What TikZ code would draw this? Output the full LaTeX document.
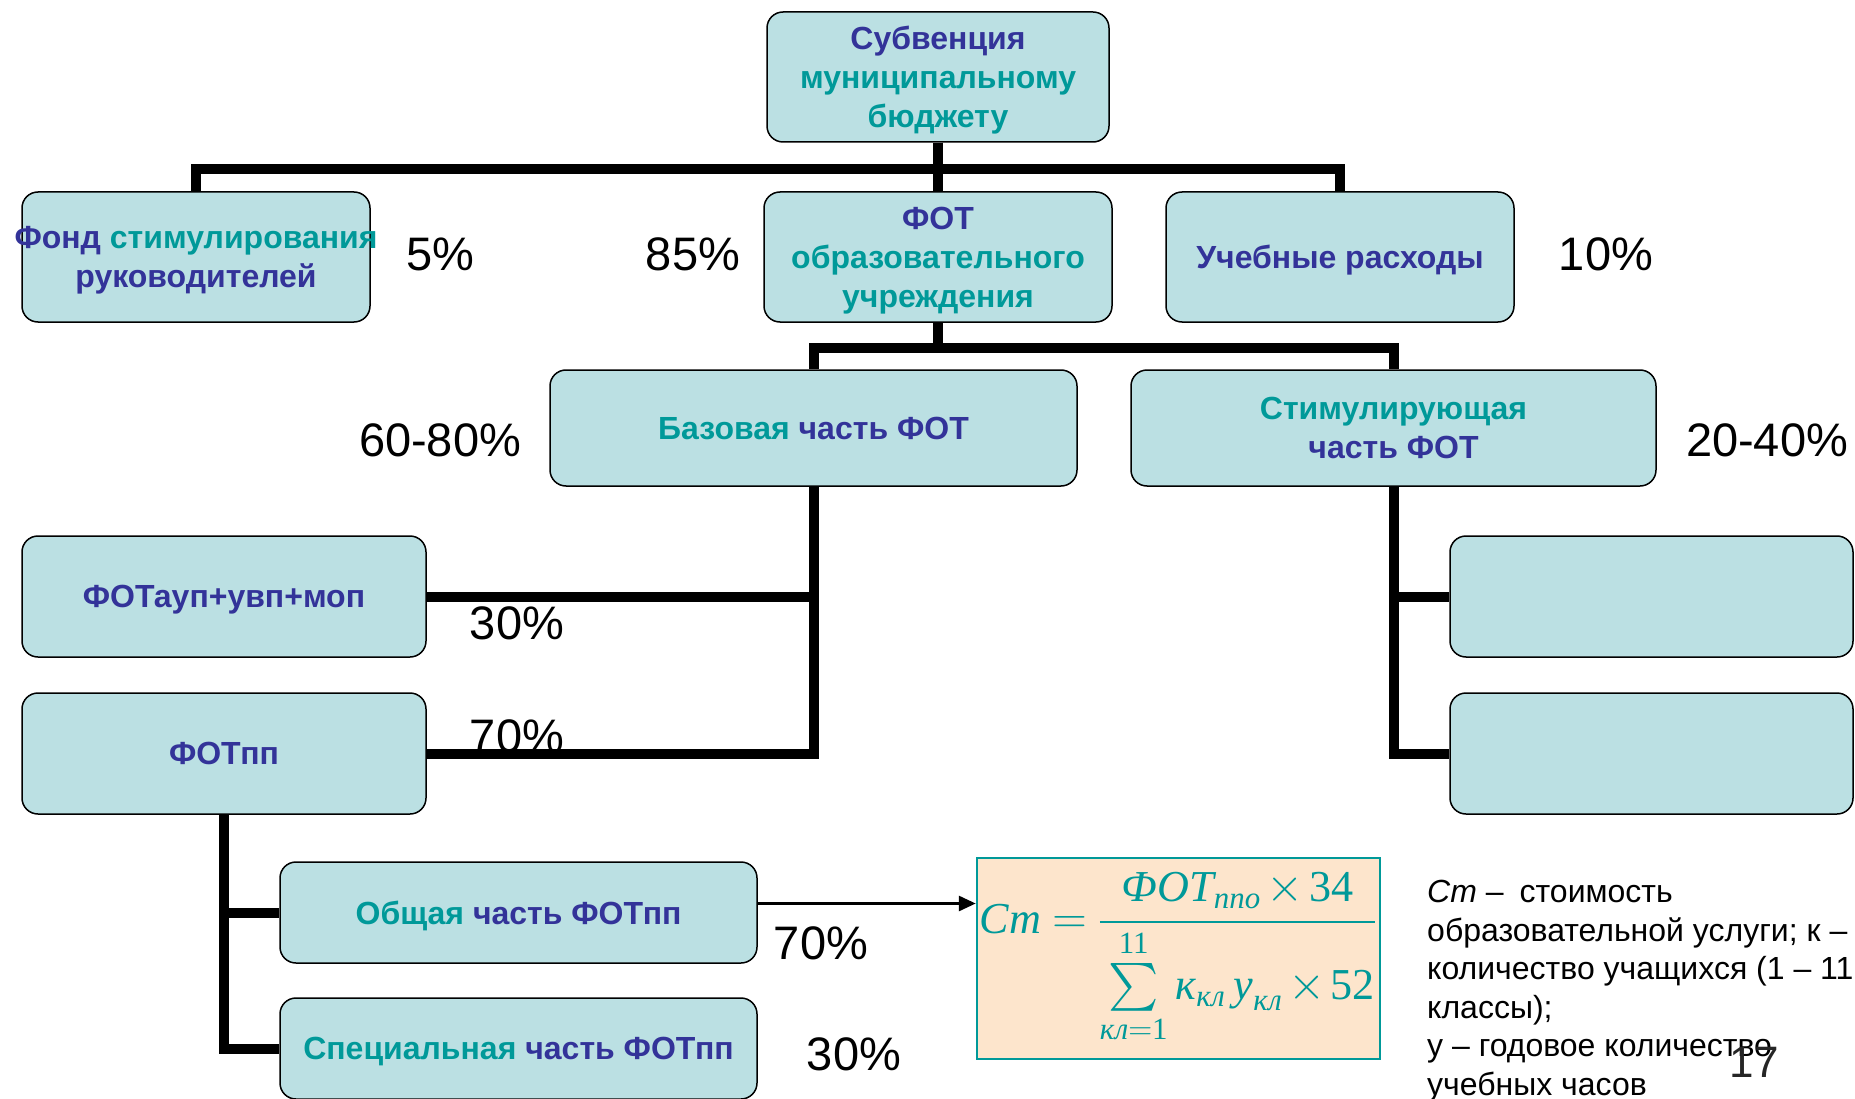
\documentclass[tikz,border=0pt]{standalone}
\usepackage{fontspec}
\usepackage{amsmath}
\usepackage{graphicx}
\setmainfont{Liberation Sans}
\newfontfamily\frmfont{Liberation Serif}
\usetikzlibrary{arrows.meta}
\definecolor{boxfill}{HTML}{BBE0E3}
\definecolor{navy}{HTML}{333399}
\definecolor{sea}{HTML}{009999}
\definecolor{peach}{HTML}{FDE5CC}
\newcommand{\bl}[1]{\textcolor{navy}{#1}}
\newcommand{\gr}[1]{\textcolor{sea}{#1}}
\newcommand{\tms}{\mkern2mu{\times}\mkern2mu}
\newcommand{\eqs}{\mkern4mu{=}\mkern4mu}
\begin{document}
\begin{tikzpicture}
        [x=1pt, y=-1pt,
         box_style/.style={draw=black, line width=1.5pt, fill=boxfill, rounded corners=16pt,
                           align=center, inner sep=0pt, text=navy, text depth=0pt,
                           font=\bfseries\fontsize{32}{39}\selectfont},
         pct_style/.style={inner sep=0pt, font=\fontsize{47}{50}\selectfont},
         conn_style/.style={draw=black, line width=10pt},
         arr_style/.style={draw=black, line width=3pt, -{Triangle[length=17pt, width=15pt]}},
         frm_style/.style={draw=sea, line width=2.5pt, fill=peach, text=sea, inner sep=0pt,
                           font=\frmfont\fontsize{23}{25}\selectfont},
         note_style/.style={align=left, inner sep=0pt, font=\fontsize{32}{38.6}\selectfont}]
            \useasboundingbox (0,0) rectangle (1855,1099);
            % boxes
            \node[box_style, minimum width=342pt, minimum height=130pt] (subv) at (938, 77)  {Субвенция\\\gr{муниципальному}\\\gr{бюджету}};
            \node[box_style, minimum width=348pt, minimum height=130pt] (fond) at (196, 257) {\makebox[348pt][c]{Фонд \gr{стимулирования}}\\руководителей};
            \node[box_style, minimum width=348pt, minimum height=130pt] (fot) at (938, 257)  {ФОТ\\\gr{образовательного}\\\gr{учреждения}};
            \node[box_style, minimum width=348pt, minimum height=130pt] (ucheb) at (1340, 257) {Учебные расходы};
            \node[box_style, minimum width=527pt, minimum height=116pt] (baza) at (813.5, 428) {\gr{Базовая} часть ФОТ};
            \node[box_style, minimum width=525pt, minimum height=116pt] (stim) at (1393.5, 428) {\gr{Стимулирующая}\\часть ФОТ};
            \node[box_style, minimum width=404pt, minimum height=121pt] (aup) at (224, 596.5) {ФОТауп+увп+моп};
            \node[box_style, minimum width=404pt, minimum height=121pt] (pp) at (224, 753.5)  {ФОТпп};
            \node[box_style, minimum width=403pt, minimum height=121pt] (stim1) at (1651.5, 596.5) {};
            \node[box_style, minimum width=403pt, minimum height=121pt] (stim2) at (1651.5, 753.5) {};
            \node[box_style, minimum width=477pt, minimum height=101pt] (obsh) at (518.5, 912.5) {\gr{Общая} часть ФОТпп};
            \node[box_style, minimum width=477pt, minimum height=101pt] (spec) at (518.5, 1048.5) {\gr{Специальная} часть ФОТпп};
            \node[frm_style, minimum width=403pt, minimum height=201pt] (frm) at (1178.5, 958.5)
                {\makebox[380pt][c]{\scalebox{1.92}{$\displaystyle \text{\itshape Ст}\eqs\frac{\text{\itshape ФОТ}_{\text{\itshape ппо}}\tms\text{34}}{\sum\limits_{\text{\itshape кл}=\text{1}}^{\text{11}}\text{\itshape к}_{\text{\itshape кл}}\,\text{\itshape у}_{\text{\itshape кл}}\tms\text{52}}$}}};
            % percentages
            \node[pct_style] (p5) at (440, 254) {5\%};
            \node[pct_style] (p85) at (693, 254) {85\%};
            \node[pct_style] (p10) at (1606, 254) {10\%};
            \node[pct_style] (p6080) at (440, 440) {60-80\%};
            \node[pct_style] (p2040) at (1767, 440) {20-40\%};
            \node[pct_style] (p30a) at (517, 623) {30\%};
            \node[pct_style] (p70a) at (517, 736) {70\%};
            \node[pct_style] (p70b) at (821, 943) {70\%};
            \node[pct_style] (p30b) at (854, 1054) {30\%};
            % note
            \node[note_style, anchor=north west] (note) at (1427, 880)
                {\textit{Ст} –\enspace стоимость\\образовательной услуги; к –\\количество учащихся (1 – 11\\классы);\\у – годовое количество\\учебных часов};
            \node[inner sep=0pt, text=black!85, font=\fontsize{44}{44}\selectfont] (page) at (1754, 1062) {17};
            % connectors
            \draw[conn_style] (subv.south) -- (fot.north);
            \draw[conn_style] (subv.south) -- ++(0,26) -| (fond.north);
            \draw[conn_style] (subv.south) -- ++(0,26) -| (ucheb.north);
            \draw[conn_style] (fot.south) -- ++(0,25) -| (baza.north);
            \draw[conn_style] (fot.south) -- ++(0,25) -| (stim.north);
            \draw[conn_style] (baza.south) |- (aup.east);
            \draw[conn_style] (baza.south) |- (pp.east);
            \draw[conn_style] (stim.south) |- (stim1.west);
            \draw[conn_style] (stim.south) |- (stim2.west);
            \draw[conn_style] (pp.south) |- (obsh.west);
            \draw[conn_style] (pp.south) |- (spec.west);
            \path ([yshift=9pt]obsh.east) coordinate (arr_start);
            \draw[arr_style] (arr_start) -- (arr_start -| frm.west);
        \end{tikzpicture}
\end{document}
